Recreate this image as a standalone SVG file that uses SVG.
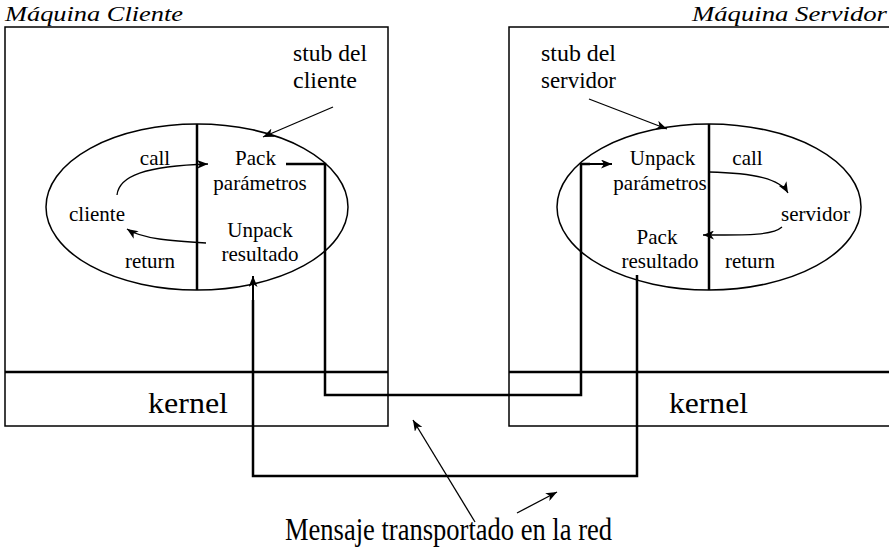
<svg xmlns="http://www.w3.org/2000/svg" width="889" height="550" viewBox="0 0 889 550">
<style>
text { font-family: "Liberation Serif", "Times New Roman", serif; fill: #000; }
.ttl { font-style: italic; font-size: 22px; }
.lbl { font-size: 21px; text-anchor: middle; }
.stub { font-size: 24px; }
.kern { font-size: 30px; }
.msg { font-size: 32px; }
.box { fill: none; stroke: #000; stroke-width: 1.5; }
.thick { fill: none; stroke: #000; stroke-width: 2.5; }
.ell { fill: none; stroke: #000; stroke-width: 1.5; }
.arr { fill: none; stroke: #000; stroke-width: 1.3; marker-end: url(#ah); }
.wire { fill: none; stroke: #000; stroke-width: 2.5; }
.wirea { fill: none; stroke: #000; stroke-width: 2; marker-end: url(#ah); }
</style>
<defs>
<marker id="ah" markerUnits="userSpaceOnUse" markerWidth="12" markerHeight="9" refX="11" refY="4.5" orient="auto">
<path d="M0,0 L11,4.5 L0,9 L3,4.5 z" fill="#000"/>
</marker>
</defs>
<rect width="889" height="550" fill="#fff"/>

<g id="maquina-cliente">
<text class="ttl" x="5" y="21" textLength="178" lengthAdjust="spacingAndGlyphs">Máquina Cliente</text>
<rect class="box" x="5" y="27" width="383" height="399"/>
<line class="thick" x1="5" y1="372" x2="388" y2="372"/>
<text class="kern" x="148" y="413" textLength="80" lengthAdjust="spacingAndGlyphs">kernel</text>
<text class="stub" x="293" y="61" textLength="74" lengthAdjust="spacingAndGlyphs">stub del</text>
<text class="stub" x="293" y="88" textLength="64" lengthAdjust="spacingAndGlyphs">cliente</text>
</g>

<g id="stub-cliente">
<ellipse class="ell" cx="197" cy="207" rx="151" ry="83"/>
<line class="thick" x1="197" y1="124" x2="197" y2="290"/>
<text class="lbl" x="155" y="165">call</text>
<text class="lbl" x="255.5" y="165">Pack</text>
<text class="lbl" x="260" y="190">parámetros</text>
<text class="lbl" x="97" y="221">cliente</text>
<text class="lbl" x="260" y="237">Unpack</text>
<text class="lbl" x="260" y="261">resultado</text>
<text class="lbl" x="150" y="268">return</text>
</g>

<g id="maquina-servidor">
<text class="ttl" x="692" y="21" textLength="195" lengthAdjust="spacingAndGlyphs">Máquina Servidor</text>
<polyline class="box" points="889,27 509,27 509,426 889,426"/>
<line class="thick" x1="509" y1="372" x2="889" y2="372"/>
<text class="kern" x="669" y="413" textLength="79" lengthAdjust="spacingAndGlyphs">kernel</text>
<text class="stub" x="541" y="61" textLength="75" lengthAdjust="spacingAndGlyphs">stub del</text>
<text class="stub" x="541" y="88" textLength="75" lengthAdjust="spacingAndGlyphs">servidor</text>
</g>

<g id="stub-servidor">
<ellipse class="ell" cx="709" cy="207" rx="152" ry="83"/>
<line class="thick" x1="709" y1="124" x2="709" y2="290"/>
<text class="lbl" x="662.5" y="165">Unpack</text>
<text class="lbl" x="660" y="190">parámetros</text>
<text class="lbl" x="747.5" y="165">call</text>
<text class="lbl" x="815.5" y="221">servidor</text>
<text class="lbl" x="657" y="244">Pack</text>
<text class="lbl" x="660" y="268">resultado</text>
<text class="lbl" x="750" y="268">return</text>
</g>

<g id="mensaje">
<text class="msg" x="285" y="540" textLength="327" lengthAdjust="spacingAndGlyphs">Mensaje transportado en la red</text>
</g>

<g id="connectors">
<path class="arr" d="M333,107 L263,137"/>
<path class="arr" d="M589,99 L667,129"/>
<path class="arr" d="M117,195 C119,176 145,166 208,164"/>
<path class="arr" d="M206,243 C172,241 142,239 127,229"/>
<path class="arr" d="M709,172 C755,173 780,179 788,193"/>
<path class="arr" d="M782,227 C772,236 742,235 703,235"/>
<polyline class="wire" points="286,164 325,164 325,395 581,395 581,164 590,164"/>
<path class="wirea" d="M581,164 L612,164"/>
<polyline class="wire" points="637,275 637,476 253,476 253,300"/>
<path class="wirea" d="M253,310 L253,276"/>
<path class="arr" d="M475,522 L413,420"/>
<path class="arr" d="M517,513 L557,492"/>
</g>
</svg>
